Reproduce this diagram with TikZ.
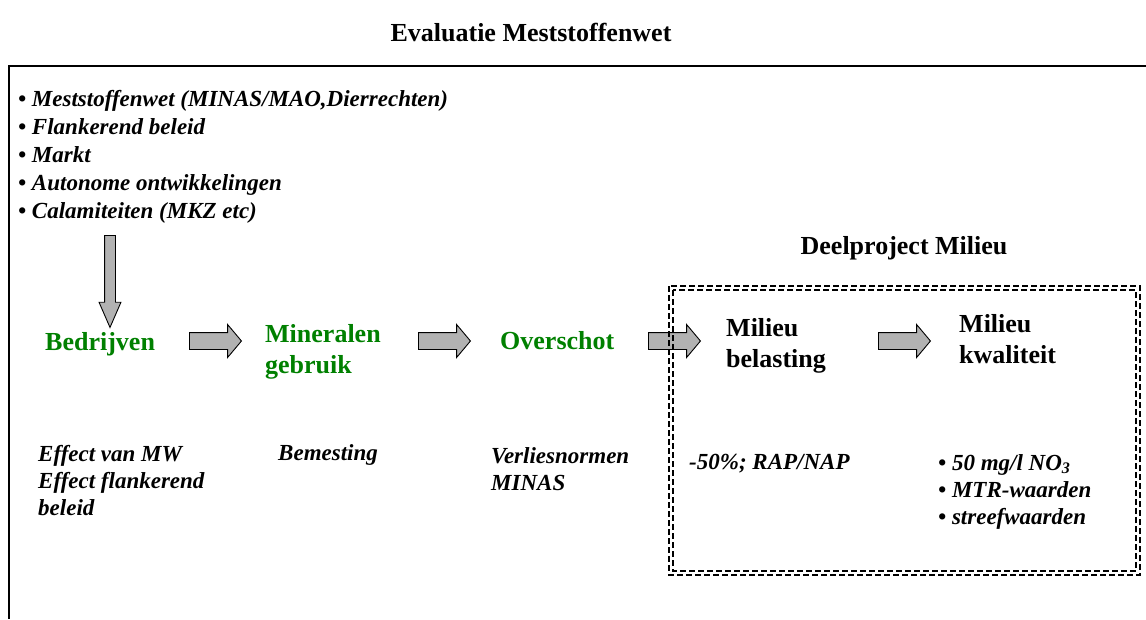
\documentclass[tikz,border=0pt]{standalone}
\usepackage{fontspec}
\setmainfont{Liberation Serif}
\usetikzlibrary{shapes.arrows}

\definecolor{mwgreen}{RGB}{0,128,0}
\definecolor{arrowgray}{RGB}{178,178,178}

\tikzset{
    stage/.style={font=\fontsize{26}{31}\selectfont\bfseries, align=left, anchor=base west, inner sep=0pt},
    note/.style={font=\fontsize{23}{27}\selectfont\bfseries\itshape, align=left, anchor=base west, inner sep=0pt},
    flowarrow/.style={single arrow, draw=black, fill=arrowgray, line width=0.9pt, minimum height=52pt,
        inner xsep=0pt, inner ysep=8pt, single arrow head extend=8pt, single arrow tip angle=100, anchor=tail},
    projbox/.style={draw, line width=1.1pt, dash pattern=on 6pt off 3pt}
}

\begin{document}
\begin{tikzpicture}[x=1pt, y=-1pt]
        \useasboundingbox (0,0) rectangle (1146,619);

        % Frame
        \draw[line width=1.2pt] (1146,66) -- (9,66) -- (9,619);

        % Titles
        \node[stage, anchor=base] (title) at (531,41) {Evaluatie Meststoffenwet};
        \node[stage, anchor=base] (deel) at (904,254) {Deelproject Milieu};

        % Drivers (base = last line)
        \node[note, font=\fontsize{23}{28}\selectfont\bfseries\itshape] (drivers) at (18,218) {
            • Meststoffenwet (MINAS/MAO,Dierrechten)\\
            • Flankerend beleid\\
            • Markt\\
            • Autonome ontwikkelingen\\
            • Calamiteiten (MKZ etc)
        };

        % Chain
        \node[stage, text=mwgreen] (bedrijven) at (45,350) {Bedrijven};
        \node[stage, text=mwgreen] (mineralen) at (265,373) {Mineralen\\gebruik};
        \node[stage, text=mwgreen] (overschot) at (500,349) {Overschot};
        \node[stage] (belasting) at (726,367) {Milieu\\belasting};
        \node[stage] (kwaliteit) at (959,363) {Milieu\\kwaliteit};

        % Block arrows
        \node[flowarrow, minimum height=92pt, inner sep=5pt, single arrow head extend=5.5pt,
            single arrow tip angle=47, shape border rotate=270] (down) at (110,235) {};
        \node[flowarrow] (a1) at (189,341) {};
        \node[flowarrow] (a2) at (418,341) {};
        \node[flowarrow] (a3) at (648,341) {};
        \node[flowarrow] (a4) at (878,341) {};

        % Notes
        \node[note] (effect) at (38,515) {Effect van MW\\Effect flankerend\\beleid};
        \node[note] (bemesting) at (278,460) {Bemesting};
        \node[note] (verlies) at (491,490) {Verliesnormen\\MINAS};
        \node[note] (reductie) at (689,469) {-50\%; RAP/NAP};
        \node[note] (normen) at (938,524) {• 50 mg/l NO\textsubscript{3}\\• MTR-waarden\\• streefwaarden};

        % Deelproject box
        \draw[projbox] (669,286) rectangle (1140,575);
        \draw[projbox] (673,290) rectangle (1136,571);
    \end{tikzpicture}
\end{document}
